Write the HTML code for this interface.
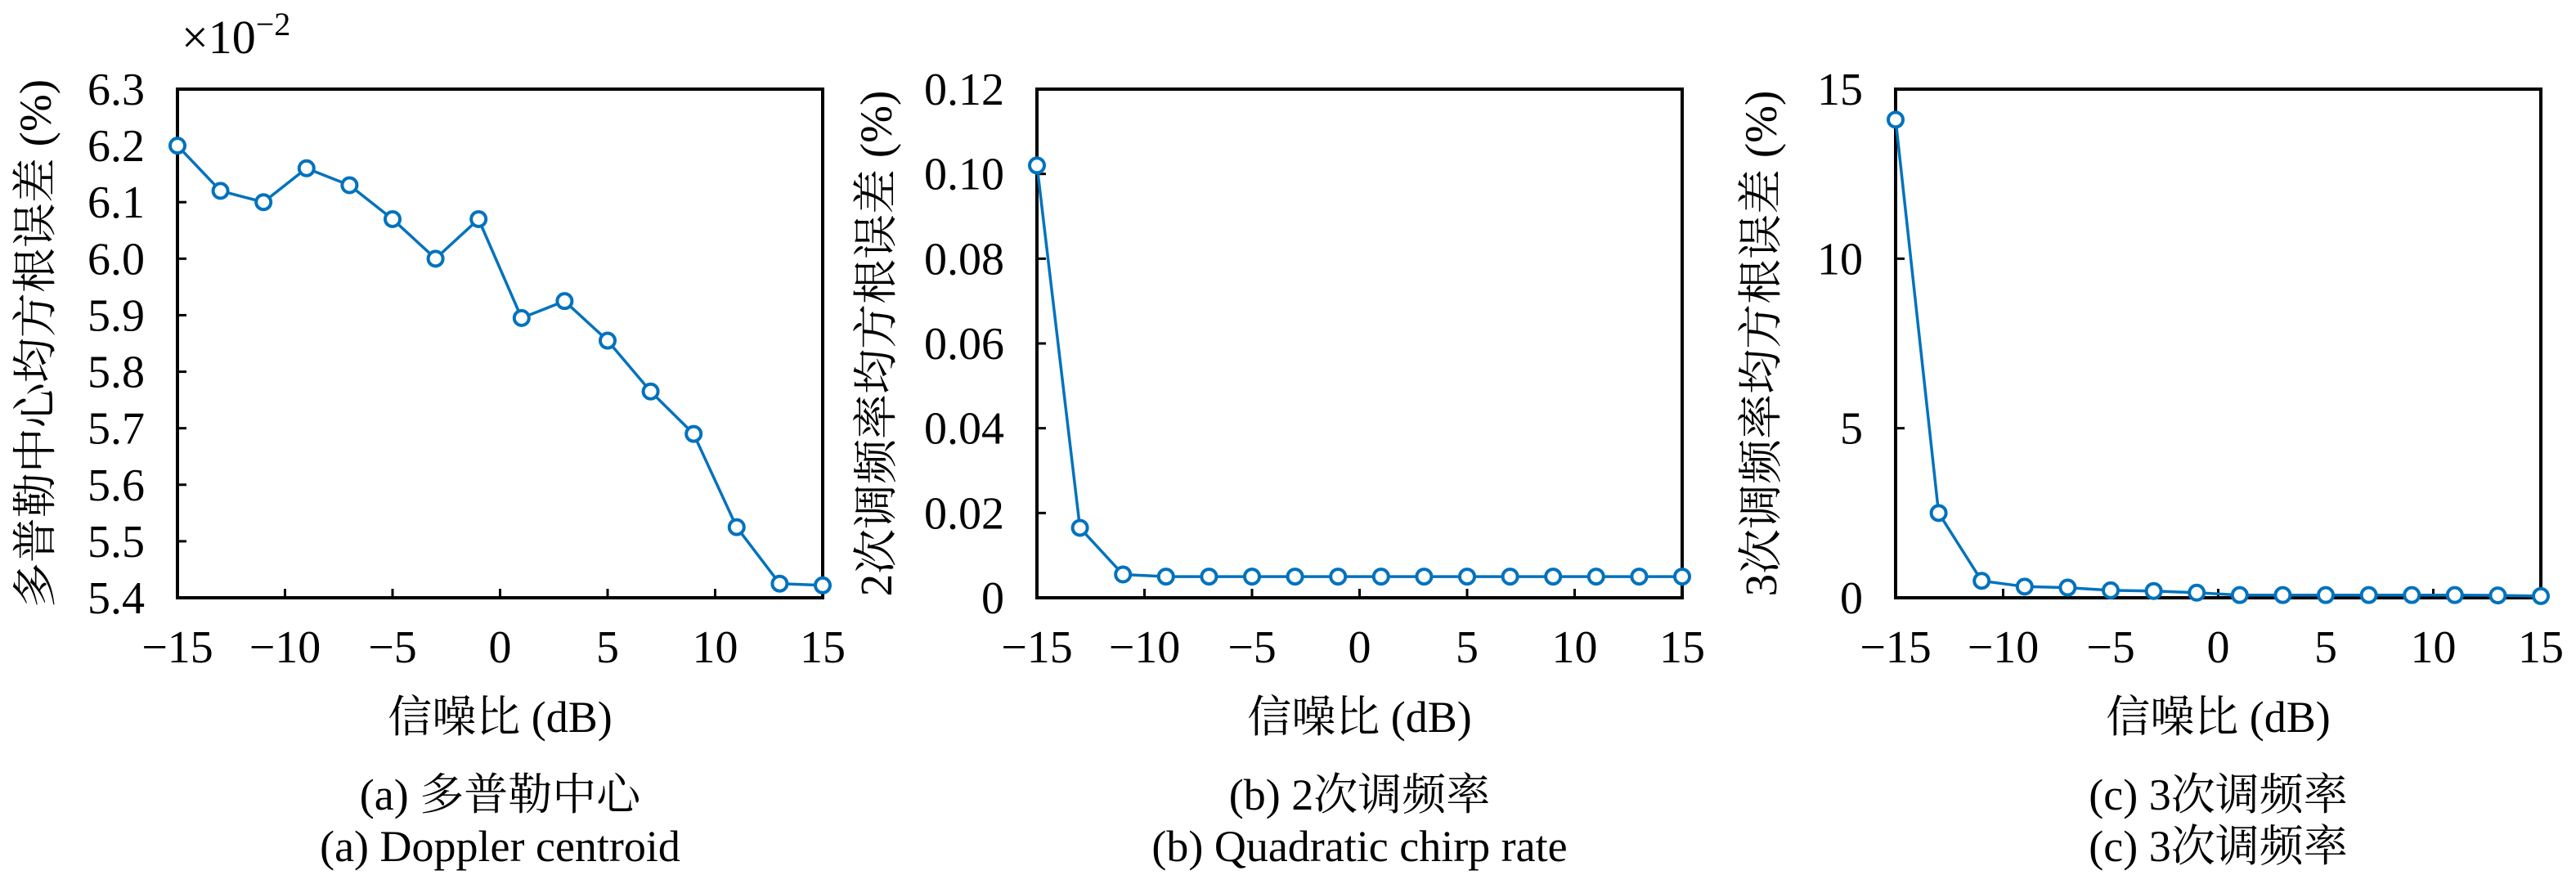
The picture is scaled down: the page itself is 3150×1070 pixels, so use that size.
<!DOCTYPE html>
<html><head><meta charset="utf-8"><style>
html,body{margin:0;padding:0;background:#fff;}
svg{display:block;}
text{font-family:"Liberation Serif","Noto Serif CJK SC",serif;fill:#000;}
</style></head><body>
<svg id="fig" width="3150" height="1070" viewBox="0 0 3150 1070" xmlns="http://www.w3.org/2000/svg"></svg>
<script>
const snr = [-15,-13,-11,-9,-7,-5,-3,-1,1,3,5,7,9,11,13,15];
const dopplerValues = [6.20,6.12,6.10,6.16,6.13,6.07,6.00,6.07,5.895,5.925,5.855,5.765,5.69,5.525,5.425,5.422];
const quadValues = [0.102,0.0165,0.0055,0.005,0.005,0.005,0.005,0.005,0.005,0.005,0.005,0.005,0.005,0.005,0.005,0.005];
const cubicValues = [14.1,2.5,0.5,0.33,0.3,0.22,0.2,0.15,0.08,0.08,0.08,0.08,0.08,0.08,0.07,0.05];
const xTicks = [-15,-10,-5,0,5,10,15];
const dopplerTicks = [5.4,5.5,5.6,5.7,5.8,5.9,6.0,6.1,6.2,6.3];
const quadTicks = [0,0.02,0.04,0.06,0.08,0.10,0.12];
const cubicTicks = [0,5,10,15];

const NS = "http://www.w3.org/2000/svg";
const svg = document.getElementById('fig');
function el(tag, attrs, parent){const e=document.createElementNS(NS,tag);for(const k in attrs)e.setAttribute(k,attrs[k]);(parent||svg).appendChild(e);return e;}
function fmtX(v){return v<0?'\u2212'+Math.abs(v):String(v);}

function panel(cfg){
  const g = el('g',{});
  
  
  const L=cfg.left, R=cfg.left+789, T=109, B=731;
  const sx = v => L + (v+15)/30*(R-L);
  const sy = v => B - (v-cfg.ymin)/(cfg.ymax-cfg.ymin)*(B-T);
  xTicks.forEach(t=>{
    const x=sx(t);
    const tk=el('line',{x1:x,x2:x,y1:B,y2:B-11,stroke:'#000','stroke-width':3},g);
    
    
    const lb=el('text',{x:x,y:810,'font-size':56,'text-anchor':'middle'},g);
    lb.textContent=fmtX(t);
    
    
  });
  cfg.ticks.forEach(t=>{
    const y=sy(t);
    const tk=el('line',{x1:L,x2:L+11,y1:y,y2:y,stroke:'#000','stroke-width':3},g);
    
    
    const lb=el('text',{x:L-40,y:y+19,'font-size':56,'text-anchor':'end'},g);
    lb.textContent=cfg.fmt(t);
    
    
  });
  const box=el('rect',{x:L,y:T,width:R-L,height:B-T,fill:'none',stroke:'#000','stroke-width':4},g);
  
  
  const pts = snr.map((s,i)=>sx(s).toFixed(1)+','+sy(cfg.values[i]).toFixed(1)).join(' ');
  const line=el('polyline',{points:pts,fill:'none',stroke:'#0072BD','stroke-width':3.5},g);
  
  
  snr.forEach((s,i)=>{
    const c=el('circle',{cx:sx(s),cy:sy(cfg.values[i]),r:9,fill:'#fff',stroke:'#0072BD','stroke-width':4},g);
    
    
  });
  const yl=el('text',{x:0,y:0,'font-size':55,'text-anchor':'middle',transform:`translate(${cfg.ytx},420) rotate(-90)`},g);
  yl.textContent=cfg.ytitle;
  
  
  const cx=(L+R)/2;
  const xl=el('text',{x:cx,y:895,'font-size':54,'text-anchor':'middle'},g);
  xl.textContent='信噪比 (dB)';
  
  
  const c1=el('text',{x:cx,y:990,'font-size':54,'text-anchor':'middle'},g);
  c1.textContent=cfg.cap1;
  
  
  const c2=el('text',{x:cx,y:1053,'font-size':54,'text-anchor':'middle'},g);
  c2.textContent=cfg.cap2;
  
  
}

panel({name:'panel-doppler-centroid',left:217,ymin:5.4,ymax:6.3,values:dopplerValues,ticks:dopplerTicks,fmt:t=>t.toFixed(1),ytx:62,ytitle:'多普勒中心均方根误差 (%)',cap1:'(a) 多普勒中心',cap2:'(a) Doppler centroid'});
panel({name:'panel-quadratic-chirp',left:1268,ymin:0,ymax:0.12,values:quadValues,ticks:quadTicks,fmt:t=>t===0?'0':t.toFixed(2),ytx:1090,ytitle:'2次调频率均方根误差 (%)',cap1:'(b) 2次调频率',cap2:'(b) Quadratic chirp rate'});
panel({name:'panel-cubic-chirp',left:2318,ymin:0,ymax:15,values:cubicValues,ticks:cubicTicks,fmt:t=>String(t),ytx:2172,ytitle:'3次调频率均方根误差 (%)',cap1:'(c) 3次调频率',cap2:'(c) 3次调频率'});

const mult=el('text',{x:222,y:65,'font-size':58});


mult.innerHTML='×10<tspan dy="-22" font-size="40">−2</tspan>';
</script>
</body></html>
